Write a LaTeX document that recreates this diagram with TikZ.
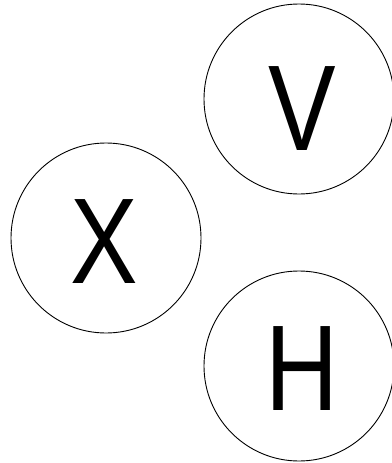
\documentclass[tikz,border=0pt]{standalone}
\usepackage{fontspec}
\setmainfont{Liberation Sans}
\newcommand{\narrowtxt}[1]{\scalebox{0.83}[1]{#1}}
\begin{document}
\begin{tikzpicture}[x=1pt,y=-1pt,
  circ/.style={draw=black,line width=0.9pt,circle,minimum size=190pt,inner sep=0pt},
  lbl/.style={inner sep=0pt,font=\fontsize{122}{122}\selectfont}]
\useasboundingbox (0,0) rectangle (391,463);
\node[circ] (V) at (299,99) {};
\node[circ] (X) at (106,238) {};
\node[circ] (H) at (299,366) {};
\node[lbl] (Vt) at (302,109) {\narrowtxt{V}};
\node[lbl] (Xt) at (104.5,242) {\narrowtxt{X}};
\node[lbl] (Ht) at (302.5,369) {\narrowtxt{H}};
\end{tikzpicture}
\end{document}
